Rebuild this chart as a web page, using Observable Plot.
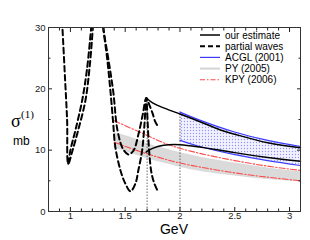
<!DOCTYPE html>
<html><head><meta charset="utf-8">
<script src="https://cdn.jsdelivr.net/npm/d3@7"></script>
<script src="https://cdn.jsdelivr.net/npm/@observablehq/plot@0.6"></script>
<style>
body{margin:0;background:#fff;}
#wrap{position:relative;width:310px;height:240px;}
</style></head><body><div id="wrap"></div>
<script>
// ---- data ----
const pw1X = [0.915,0.927,0.95,0.97,0.98,1.02,1.07,1.137,1.175,1.205,1.215, NaN, 1.29,1.30,1.335,1.365,1.39,1.41,1.457,1.50,1.548,1.594,1.62,1.655,1.675,1.693,1.705,1.72,1.74,1.765,1.795];
const pw1Y = [34,30,22,14.8,7.8,10,13.2,18.1,23.5,30,33, NaN, 33,30,25,19.7,14.5,10.5,6.7,4.6,3.3,4.6,6.7,10,14,18.5,14.5,9.5,6.3,4.6,3.4];
const pw2X = [0.98,1.0,1.045,1.107,1.15,1.19,1.2, NaN, 1.29,1.30,1.345,1.39,1.43,1.48,1.53,1.575,1.62,1.66,1.693,1.72,1.75,1.775,1.795];
const pw2Y = [7.8,10,13.2,18.1,23,30,32, NaN, 33,30,25,19.7,13.2,10.2,9.3,9.9,12.5,15.8,18.5,17.4,16,14.6,14];

const estUpX = [1.693,1.75,1.85,2.0,2.16,2.37,2.5,2.8,3.1];
const estUpY = [18.5,17.7,16.9,15.9,14.8,13.3,12.6,11.2,10.4];
const estLoX = [1.69,1.75,1.85,2.0,2.18,2.37,2.5,2.8,3.1];
const estLoY = [9.7,10.3,10.8,10.9,10.5,10.0,9.6,8.8,8.2];

const acglX  = [2.0,2.18,2.49,2.8,3.1];
const acglUp = [16.2,14.9,13.0,11.6,10.6];
const acglLo = [11.6,10.6,9.3,8.3,7.5];

const pyX  = [1.4,1.55,1.7,1.85,2.0,2.2,2.5,2.8,3.1];
const pyUp = [12.9,12.1,11.1,10.3,9.6,8.8,7.9,7.1,6.5];
const pyLo = [10.3,9.5,8.6,7.9,7.2,6.5,5.8,5.2,4.8];

const kpyX  = [1.4,1.55,1.7,1.85,2.0,2.2,2.5,2.8,3.1];
const kpyUp = [14.8,13.6,12.4,11.2,10.3,9.4,8.3,7.4,6.7];
const kpyLo = [11.3,10.3,9.4,8.6,7.9,7.2,6.3,5.6,5.0];

const thresholdsX = [1.7, 2.0];
const thresholdsTop = [18.5, 16.2];

const xMajor = [1, 1.5, 2, 2.5, 3];
const xMajorLabels = ["1", "1.5", "2", "2.5", "3"];
const xMinor = [0.9,1.1,1.2,1.3,1.4,1.6,1.7,1.8,1.9,2.1,2.2,2.3,2.4,2.6,2.7,2.8,2.9,3.0];
const yMajor = [0, 10, 20, 30];
const yMajorLabels = ["0", "10", "20", "30"];
const yMinor = [5, 15, 25];

const legendLabels = ["our estimate", "partial waves", "ACGL (2001)", "PY (2005)", "KPY (2006)"];

// ---- build ----
const pts = (xs, ys) => xs.map((x, i) => ({x, y: ys[i]}));
const band = (xs, lo, hi) => xs.map((x, i) => ({x, lo: lo[i], hi: hi[i]}));
const vl = thresholdsX.map((x, i) => ({x, top: thresholdsTop[i]}));

const blue = "#3c3cff", red = "#ff4a4a";
const blank = () => "";
const fmtX = (d) => xMajorLabels[xMajor.indexOf(d)];
const fmtY = (d) => yMajorLabels[yMajor.indexOf(d)];

const chart = Plot.plot({
  width: 310, height: 240,
  marginLeft: 48, marginRight: 10, marginTop: 27, marginBottom: 29,
  style: {fontFamily: "'Liberation Sans', Arial, sans-serif", fontSize: "9.5px", color: "#222", background: "white"},
  x: {domain: [0.8, 3.1], label: null},
  y: {domain: [0, 30], label: null},
  marks: [
    Plot.areaY(band(pyX, pyLo, pyUp), {x: "x", y1: "lo", y2: "hi", fill: "#dadada", curve: "natural"}),
    Plot.areaY(band(acglX, acglLo, acglUp), {x: "x", y1: "lo", y2: "hi", fill: "url(#dots)", curve: "natural"}),
    Plot.ruleX(vl, {x: "x", y1: 0, y2: "top", stroke: "#444", strokeWidth: 0.8, strokeDasharray: "1.5,1.5"}),
    Plot.line(pts(kpyX, kpyUp), {x: "x", y: "y", stroke: red, strokeWidth: 1.1, strokeDasharray: "6,2,1.5,2", curve: "natural"}),
    Plot.line(pts(kpyX, kpyLo), {x: "x", y: "y", stroke: red, strokeWidth: 1.1, strokeDasharray: "6,2,1.5,2", curve: "natural"}),
    Plot.line(pts(acglX, acglUp), {x: "x", y: "y", stroke: blue, strokeWidth: 1.2, curve: "natural"}),
    Plot.line(pts(acglX, acglLo), {x: "x", y: "y", stroke: blue, strokeWidth: 1.2, curve: "natural"}),
    Plot.line(pts(estUpX, estUpY), {x: "x", y: "y", stroke: "black", strokeWidth: 1.5, curve: "natural"}),
    Plot.line(pts(estLoX, estLoY), {x: "x", y: "y", stroke: "black", strokeWidth: 1.5, curve: "natural"}),
    Plot.line(pts(pw1X, pw1Y), {x: "x", y: "y", stroke: "black", strokeWidth: 2, strokeDasharray: "5.5,3.5", curve: "catmull-rom", clip: true}),
    Plot.line(pts(pw2X, pw2Y), {x: "x", y: "y", stroke: "black", strokeWidth: 2, strokeDasharray: "5.5,3.5", curve: "catmull-rom", clip: true}),
    Plot.axisY(yMajor, {anchor: "left", tickSize: -4, tickPadding: 7, tickFormat: fmtY}),
    Plot.axisY(yMinor, {anchor: "left", tickSize: -2.5, tickFormat: blank}),
    Plot.axisY(yMajor, {anchor: "right", tickSize: -4, tickFormat: blank}),
    Plot.axisY(yMinor, {anchor: "right", tickSize: -2.5, tickFormat: blank}),
    Plot.axisX(xMajor, {anchor: "bottom", tickSize: -4, tickPadding: 5, tickFormat: fmtX}),
    Plot.axisX(xMinor, {anchor: "bottom", tickSize: -2.5, tickFormat: blank}),
    Plot.axisX(xMajor, {anchor: "top", tickSize: -4, tickFormat: blank}),
    Plot.axisX(xMinor, {anchor: "top", tickSize: -2.5, tickFormat: blank}),
    Plot.frame({stroke: "#333", strokeWidth: 1})
  ]
});

const svg = d3.select(chart);
svg.insert("defs", ":first-child").html(
  '<pattern id="dots" width="3" height="3" patternUnits="userSpaceOnUse">' +
  '<rect width="3" height="3" fill="#f2f2ff"/><circle cx="1.5" cy="1.5" r="0.65" fill="#9494ff"/></pattern>');

// legend
const legendStyles = [
  {stroke: "black", width: 1.5, dash: null},
  {stroke: "black", width: 2, dash: "5,3"},
  {stroke: blue, width: 1.2, dash: null},
  {stroke: "#d4d4d4", width: 2, dash: null},
  {stroke: red, width: 1.1, dash: "5,2,1.5,2"}
];
const lg = svg.append("g").attr("font-family", "'Liberation Sans', Arial, sans-serif").attr("font-size", "10px").attr("text-anchor", "start");
legendLabels.forEach((t, i) => {
  const y = 35 + i * 11.2;
  const s = legendStyles[i];
  lg.append("line").attr("x1", 200).attr("x2", 220).attr("y1", y).attr("y2", y)
    .attr("stroke", s.stroke).attr("stroke-width", s.width).attr("stroke-dasharray", s.dash);
  lg.append("text").attr("x", 225).attr("y", y + 3.5).attr("fill", "black").text(t);
});

// axis titles
const tg = svg.append("g").attr("text-anchor", "start").attr("fill", "black");
tg.append("text").attr("x", 11).attr("y", 127).attr("font-family", "'Liberation Serif', 'DejaVu Serif', serif").attr("font-size", "18px").text("σ");
tg.append("text").attr("x", 21).attr("y", 118).attr("font-family", "'Liberation Serif', 'DejaVu Serif', serif").attr("font-size", "11px").text("(1)");
tg.append("text").attr("x", 13).attr("y", 145).attr("font-family", "'Liberation Sans', Arial, sans-serif").attr("font-size", "12px").text("mb");
tg.append("text").attr("x", 174).attr("y", 234).attr("text-anchor", "middle").attr("font-family", "'Liberation Sans', Arial, sans-serif").attr("font-size", "14px").text("GeV");

document.getElementById("wrap").appendChild(chart);
</script></body></html>
